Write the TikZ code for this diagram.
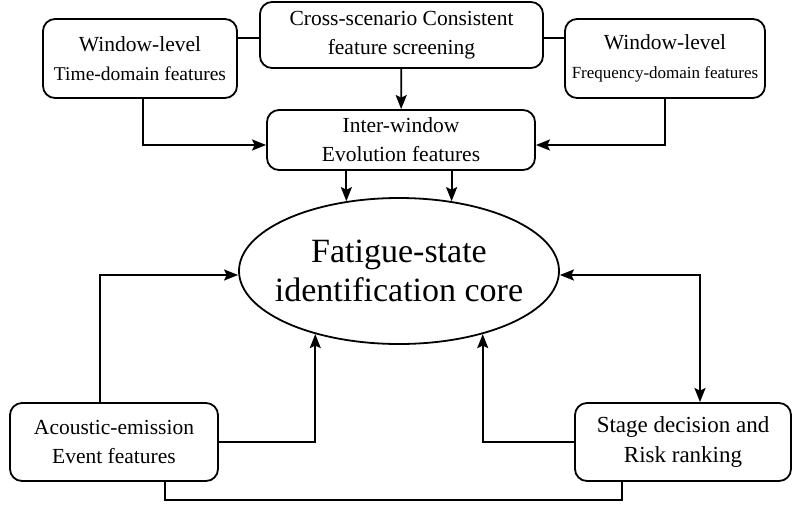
\documentclass[tikz,border=0pt]{standalone}
\usepackage{fontspec}
\setmainfont{Liberation Serif}
\usepackage{tikz}
\usetikzlibrary{arrows.meta,positioning,calc,shapes.geometric}

\begin{document}
\begin{tikzpicture}[x=1pt, y=-1pt, >={Stealth[length=14pt,width=11pt,inset=2.5pt]}, line width=1.8pt,
  box/.style={rounded corners=12pt, draw=black, fill=white, align=center, inner sep=2pt,
    font=\fontsize{21.5}{29}\selectfont},
  core/.style={ellipse, draw=black, fill=white, align=center, inner xsep=-20pt, inner ysep=0pt,
    minimum width=320pt, minimum height=146pt, font=\fontsize{34}{39}\selectfont}]
\useasboundingbox (0,0) rectangle (792,504);
% feature sources
\node[box, minimum width=194pt, minimum height=79pt] (tdf) at (140,58.5)
  {Window-level\\{\fontsize{19.5}{29}\selectfont Time-domain features}};
\node[box, minimum width=283pt, minimum height=66pt] (css) at (401.5,35)
  {Cross-scenario Consistent\\feature screening};
\node[box, minimum width=200pt, minimum height=79pt] (fdf) at (665,58.5)
  {Window-level\\{\fontsize{17}{29}\selectfont Frequency-domain features}};
\node[box, minimum width=268pt, minimum height=60pt] (evo) at (401,140)
  {Inter-window\\Evolution features};
% core and outputs
\node[core] (core) at (399,271) {Fatigue-state\\identification core};
\node[box, minimum width=208pt, minimum height=78pt] (ae) at (114,442)
  {Acoustic-emission\\Event features};
\node[box, minimum width=216pt, minimum height=78pt, font=\fontsize{23}{30}\selectfont] (stage) at (683,442)
  {Stage decision and\\Risk ranking};
% connectors
\draw (tdf.east |- 0,38) -- (css.west |- 0,38);
\draw (css.east |- 0,38) -- (fdf.west |- 0,38);
\draw[->] (css) -- (evo);
\draw[->] ([xshift=3pt]tdf.south) |- ([yshift=-5pt]evo.west);
\draw[->] (fdf.south) |- ([yshift=-5pt]evo.east);
\draw[->] (evo.south -| core.127) -- (core.127);
\draw[->] (evo.south -| core.53) -- (core.53);
\draw[->] ([xshift=-14pt]ae.north) |- ([yshift=-4pt]core.west);
\draw[->] (ae.east) -| (core.217);
\draw[->] (stage.west) -| (core.323);
\draw[<->] ([yshift=-4pt]core.east) -| ([xshift=17pt]stage.north);
\draw ([xshift=51pt]ae.south) -- ++(0,18) -| ([xshift=-61pt]stage.south);
\end{tikzpicture}
\end{document}
